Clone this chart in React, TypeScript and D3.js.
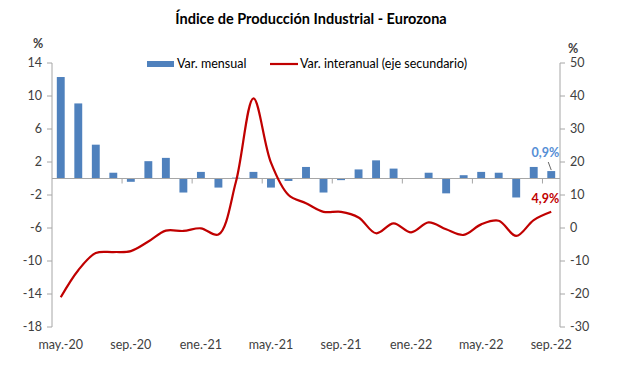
import React from 'react';
import * as d3 from 'd3';

const months = [
  'may.-20', 'jun.-20', 'jul.-20', 'ago.-20', 'sep.-20', 'oct.-20', 'nov.-20', 'dic.-20',
  'ene.-21', 'feb.-21', 'mar.-21', 'abr.-21', 'may.-21', 'jun.-21', 'jul.-21', 'ago.-21',
  'sep.-21', 'oct.-21', 'nov.-21', 'dic.-21', 'ene.-22', 'feb.-22', 'mar.-22', 'abr.-22',
  'may.-22', 'jun.-22', 'jul.-22', 'ago.-22', 'sep.-22',
];

// variación mensual (eje principal)
const mensual = [
  12.3, 9.1, 4.1, 0.7, -0.4, 2.1, 2.5, -1.7,
  0.8, -1.1, 0.1, 0.8, -1.1, -0.3, 1.4, -1.7,
  -0.2, 1.1, 2.2, 1.2, 0, 0.7, -1.8, 0.4,
  0.8, 0.7, -2.3, 1.4, 0.9,
];

// variación interanual (eje secundario)
const interanual = [
  -21.0, -12.8, -7.6, -7.3, -7.0, -4.1, -0.8, -0.9,
  -0.1, -2.0, 14.0, 39.3, 19.8, 10.0, 7.5, 4.9,
  4.9, 3.2, -1.6, 1.4, -1.3, 1.7, -0.4, -2.1,
  1.1, 2.2, -2.4, 2.4, 4.9,
];

const leftTicks = [14, 10, 6, 2, -2, -6, -10, -14, -18];
const rightTicks = [50, 40, 30, 20, 10, 0, -10, -20, -30];
const xLabelMonths = ['may.-20', 'sep.-20', 'ene.-21', 'may.-21', 'sep.-21', 'ene.-22', 'may.-22', 'sep.-22'];

const W = 617;
const H = 370;
const left = 52;
const right = 560;
const top = 63;
const bottom = 327;

const font = 'Lato, "Liberation Sans", sans-serif';
const barColor = '#4F81BD';
const lineColor = '#C00000';
const axisColor = '#A6A6A6';
const textColor = '#404040';

const App = () => {
  const x = d3.scaleBand<string>().domain(months).range([left, right]).padding(0);
  const yL = d3.scaleLinear().domain([-18, 14]).range([bottom, top]);
  const yR = d3.scaleLinear().domain([-30, 50]).range([bottom, top]);

  const bw = x.bandwidth() * 0.45;
  const cx = (m: string) => (x(m) as number) + x.bandwidth() / 2;

  const line = d3.line<number>()
    .x((_, i) => cx(months[i]))
    .y(d => yR(d))
    .curve(d3.curveCatmullRom.alpha(0.5));

  const fmt = (v: number) => v.toFixed(1).replace('.', ',') + '%';
  const last = months.length - 1;
  const lastX = cx(months[last]);

  return (
    <svg width={W} height={H} style={{ position: 'absolute', left: 0, top: 0, background: '#fff' }} fontFamily={font}>
      <text x={311} y={24} textAnchor="middle" fontSize={14.5} fontWeight="bold" fill="#000">
        Índice de Producción Industrial - Eurozona
      </text>

      {/* ejes verticales */}
      <line x1={left} x2={left} y1={top} y2={bottom} stroke={axisColor} />
      <line x1={right} x2={right} y1={top} y2={bottom} stroke={axisColor} />
      {leftTicks.map(t => (
        <g key={'l' + t}>
          <line x1={left - 5} x2={left} y1={yL(t)} y2={yL(t)} stroke={axisColor} />
          <text x={left - 10} y={yL(t)} dy="0.35em" textAnchor="end" fontSize={12.5} fill={textColor}>{t}</text>
        </g>
      ))}
      {rightTicks.map(t => (
        <g key={'r' + t}>
          <line x1={right} x2={right + 5} y1={yR(t)} y2={yR(t)} stroke={axisColor} />
          <text x={right + 10} y={yR(t)} dy="0.35em" textAnchor="start" fontSize={12.5} fill={textColor}>{t}</text>
        </g>
      ))}
      <text x={38} y={48} textAnchor="middle" fontSize={12.5} fontWeight="bold" fill={textColor}>%</text>
      <text x={573} y={53} textAnchor="middle" fontSize={12.5} fontWeight="bold" fill={textColor}>%</text>

      {/* barras */}
      {mensual.map((v, i) => (
        <rect key={i} x={cx(months[i]) - bw / 2} width={bw}
          y={Math.min(yL(v), yL(0))} height={Math.abs(yL(v) - yL(0))} fill={barColor} />
      ))}

      {/* eje de categorías en cero */}
      <line x1={left} x2={right} y1={yL(0)} y2={yL(0)} stroke={axisColor} />
      {months.map((m, i) => (i > 0 && i % 4 === 0 ? (
        <line key={'t' + m} x1={x(m)} x2={x(m)} y1={yL(0)} y2={yL(0) + 5} stroke={axisColor} />
      ) : null))}
      {xLabelMonths.map(m => (
        <text key={'x' + m} x={cx(m)} y={349} textAnchor="middle" fontSize={12.5} fill={textColor}>{m}</text>
      ))}

      {/* línea interanual */}
      <path d={line(interanual) || ''} fill="none" stroke={lineColor} strokeWidth={2.2} />

      {/* etiquetas */}
      <text x={lastX + 8} y={157} textAnchor="end" fontSize={12.5} fontWeight="bold" fill="#558ED5">{fmt(mensual[last])}</text>
      <line x1={lastX - 3} y1={162} x2={lastX} y2={yL(mensual[last]) - 1} stroke="#404040" strokeWidth={0.8} />
      <text x={lastX + 8} y={203} textAnchor="end" fontSize={12.5} fontWeight="bold" fill={lineColor}>{fmt(interanual[last])}</text>

      {/* leyenda */}
      <rect x={147} y={61} width={27} height={6} fill={barColor} />
      <text x={177} y={68} fontSize={12.5} fill="#000">Var. mensual</text>
      <line x1={270} x2={298} y1={64} y2={64} stroke={lineColor} strokeWidth={2.2} />
      <text x={300} y={68} fontSize={12.5} fill="#000">Var. interanual (eje secundario)</text>
    </svg>
  );
};

export default App;
